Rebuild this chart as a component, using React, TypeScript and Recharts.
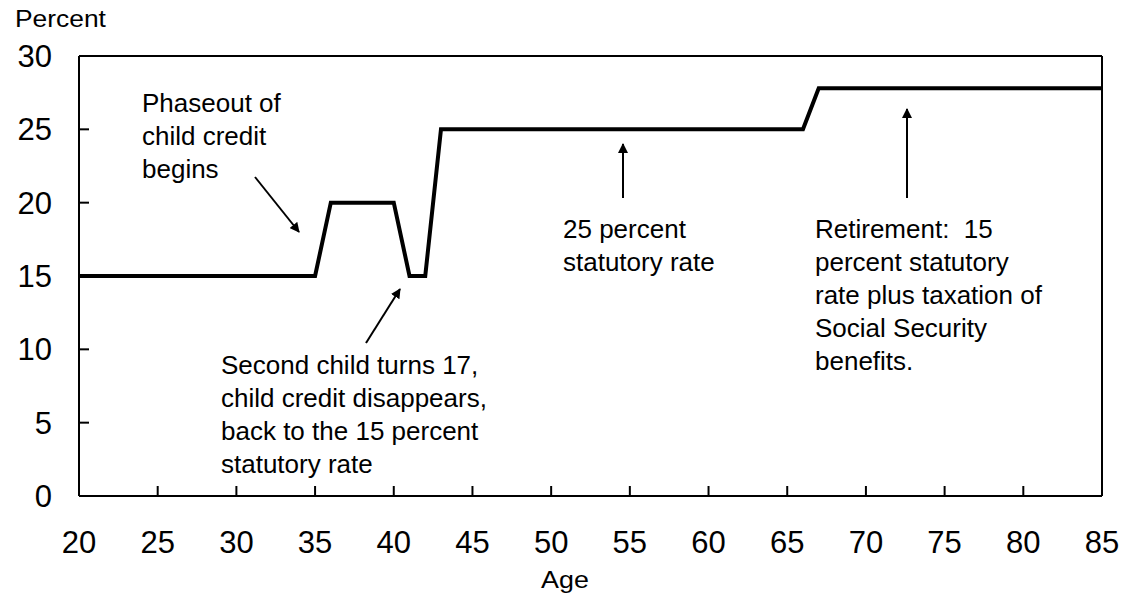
import { LineChart, Line, XAxis, YAxis, ReferenceLine } from 'recharts';

// effective tax rate by age
const ages = [20, 35, 36, 40, 41, 42, 43, 66, 67, 85];
const rates = [15, 15, 20, 20, 15, 15, 25, 25, 27.8, 27.8];
const xTicks = [20, 25, 30, 35, 40, 45, 50, 55, 60, 65, 70, 75, 80, 85];
const yTicks = [0, 5, 10, 15, 20, 25, 30];

const chartData = ages.map((age, i) => ({ age, rate: rates[i] }));

const FONT = '"Liberation Sans", Arial, sans-serif';

const notes = [
    { x: 142, y: 112, lines: ['Phaseout of', 'child credit', 'begins'] },
    { x: 221, y: 374, lines: ['Second child turns 17,', 'child credit disappears,', 'back to the 15 percent', 'statutory rate'] },
    { x: 563, y: 238, lines: ['25 percent', 'statutory rate'] },
    { x: 815, y: 238, lines: ['Retirement:  15', 'percent statutory', 'rate plus taxation of', 'Social Security', 'benefits.'] },
];

const arrows = [
    [255, 177, 299, 232],
    [366, 343, 400, 289],
    [623, 198, 623, 144],
    [907, 198, 907, 109],
];

function XTick({ x, y, payload }: any) {
    return (
        <g>
            <line x1={x} y1={y} x2={x} y2={y - 10} stroke="#000" strokeWidth={2} />
            <text x={x} y={y + 57} textAnchor="middle" fontSize={31} fontFamily={FONT} fill="#000">
                {payload.value}
            </text>
        </g>
    );
}

function YTick({ x, y, payload }: any) {
    return (
        <g>
            <line x1={x} y1={y} x2={x + 10} y2={y} stroke="#000" strokeWidth={2} />
            <text x={x - 27} y={y + 11} textAnchor="end" fontSize={31} fontFamily={FONT} fill="#000">
                {payload.value}
            </text>
        </g>
    );
}

function Overlay() {
    return (
        <svg width={1131} height={596} style={{ position: 'absolute', left: 0, top: 0, pointerEvents: 'none' }}>
            <defs>
                <marker id="head" viewBox="0 0 10 10" refX="9" refY="5" markerWidth="5" markerHeight="5" orient="auto">
                    <path d="M0,0 L10,5 L0,10 z" fill="#000" />
                </marker>
            </defs>
            {arrows.map(([x1, y1, x2, y2], i) => (
                <line key={i} x1={x1} y1={y1} x2={x2} y2={y2} stroke="#000" strokeWidth={2} markerEnd="url(#head)" />
            ))}
            {notes.map((n, i) => (
                <text key={i} fontSize={26} fontFamily={FONT} fill="#000">
                    {n.lines.map((l, j) => (
                        <tspan key={j} x={n.x} y={n.y + j * 33} style={{ whiteSpace: 'pre' }}>
                            {l}
                        </tspan>
                    ))}
                </text>
            ))}
            <text transform="translate(15,27) scale(1.1,1)" fontSize={24} fontFamily={FONT} fill="#000">
                Percent
            </text>
            <text transform="translate(565,588) scale(1.12,1)" textAnchor="middle" fontSize={24} fontFamily={FONT} fill="#000">
                Age
            </text>
        </svg>
    );
}

export default function App() {
    return (
        <div style={{ position: 'absolute', left: 0, top: 0, width: 1131, height: 596, background: '#fff' }}>
            <LineChart width={1131} height={596} data={chartData} margin={{ top: 56, right: 29, bottom: 0, left: 0 }}>
                <XAxis
                    dataKey="age"
                    type="number"
                    domain={[20, 85]}
                    ticks={xTicks}
                    interval={0}
                    height={100}
                    tickSize={0}
                    tickMargin={0}
                    tickLine={false}
                    tick={<XTick />}
                    axisLine={{ stroke: '#000', strokeWidth: 2 }}
                />
                <YAxis
                    type="number"
                    domain={[0, 30]}
                    ticks={yTicks}
                    interval={0}
                    width={79}
                    tickSize={0}
                    tickMargin={0}
                    tickLine={false}
                    tick={<YTick />}
                    axisLine={{ stroke: '#000', strokeWidth: 2 }}
                />
                <ReferenceLine y={30} stroke="#000" strokeWidth={2} />
                <ReferenceLine x={85} stroke="#000" strokeWidth={2} />
                <Line
                    type="linear"
                    dataKey="rate"
                    stroke="#000"
                    strokeWidth={4}
                    dot={false}
                    activeDot={false}
                    isAnimationActive={false}
                />
            </LineChart>
            <Overlay />
        </div>
    );
}
